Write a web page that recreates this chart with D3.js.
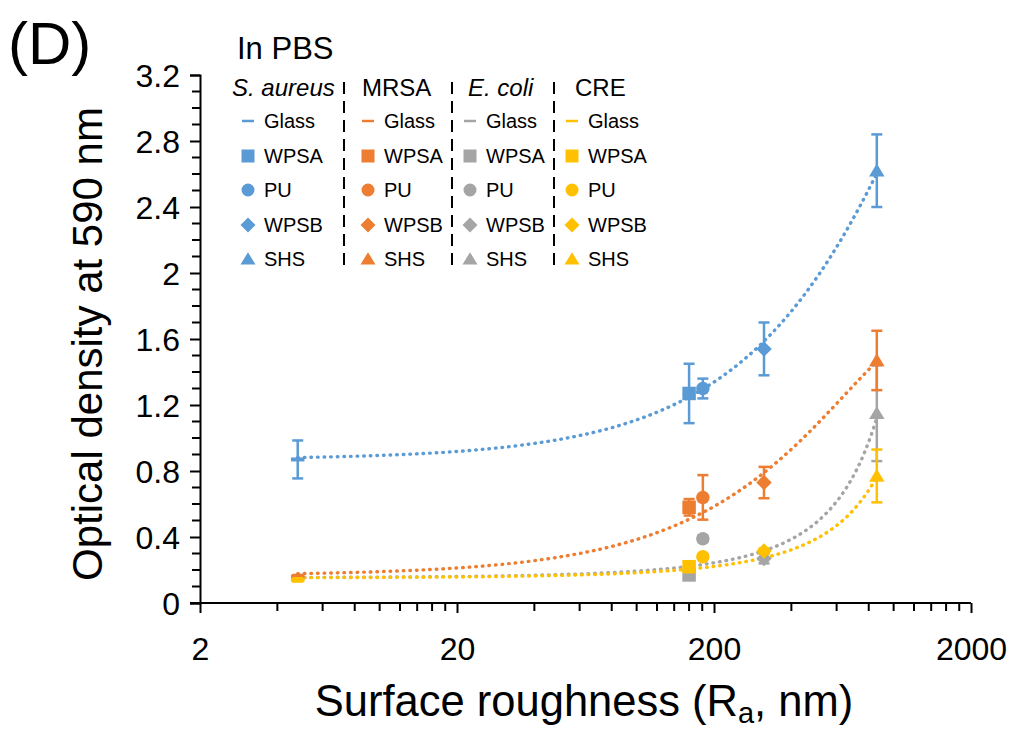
<!DOCTYPE html>
<html>
<head>
<meta charset="utf-8">
<script src="https://cdn.jsdelivr.net/npm/d3@7"></script>
<style>
html,body{margin:0;padding:0;background:#fff;}
svg{display:block;}
text{font-family:"Liberation Sans",Arial,sans-serif;fill:#000;}
</style>
</head>
<body>
<svg id="chart" width="1013" height="729"></svg>
<script>
// ---- data ----
const materials = ["Glass", "WPSA", "PU", "WPSB", "SHS"];
const markerShapes = ["dash", "square", "circle", "diamond", "triangle"];
const roughness = [4.8, 160, 181, 313, 860];
const bacteria = ["S. aureus", "MRSA", "E. coli", "CRE"];
const bacteriaItalic = [true, false, true, false];
const colors = ["#5B9BD5", "#ED7D31", "#A5A5A5", "#FFC000"];

const odSAureus = [0.87, 1.27, 1.30, 1.54, 2.62];
const errSAureus = [0.115, 0.18, 0.06, 0.16, 0.22];
const odMRSA = [0.16, 0.58, 0.64, 0.73, 1.47];
const errMRSA = [0.01, 0.05, 0.135, 0.095, 0.18];
const odEcoli = [0.15, 0.17, 0.39, 0.27, 1.15];
const errEcoli = [0.01, 0.025, 0.02, 0.03, 0.29];
const odCRE = [0.14, 0.22, 0.28, 0.315, 0.77];
const errCRE = [0.01, 0.02, 0.015, 0.015, 0.16];

// trendline fits
const trendType = ["poly", "poly", "exp", "exp"];
const trendCoef = [[0.87, 0.002446, -5e-7], [0.1674, 0.002265, -8.83e-7], [0.1533, 0.002315], [0.1521, 0.001879]];

const xTickValues = [2, 20, 200, 2000];
const xTickLabels = ["2", "20", "200", "2000"];
const yTickValues = [0, 0.4, 0.8, 1.2, 1.6, 2, 2.4, 2.8, 3.2];
const yTickLabels = ["0", "0.4", "0.8", "1.2", "1.6", "2", "2.4", "2.8", "3.2"];

const panelLabel = "(D)";
const conditionLabel = "In PBS";
const xTitleMain = "Surface roughness (R";
const xTitleSub = "a";
const xTitleEnd = ", nm)";
const yTitle = "Optical density at 590 nm";

// ---- drawing ----
const svg = d3.select("#chart");
const x = d3.scaleLog().domain([2, 2000]).range([200, 971]);
const y = d3.scaleLinear().domain([0, 3.2]).range([603, 75]);

const seriesOD = [odSAureus, odMRSA, odEcoli, odCRE];
const seriesErr = [errSAureus, errMRSA, errEcoli, errCRE];
const drawOrder = [0, 2, 1, 3];

function markerPath(shape, s) {
  const h = s / 2;
  switch (shape) {
    case "square": return `M${-h},${-h}H${h}V${h}H${-h}Z`;
    case "circle": return d3.symbol(d3.symbolCircle, Math.PI * h * h)();
    case "diamond": { const d = h * 1.15; return `M0,${-d}L${d},0L0,${d}L${-d},0Z`; }
    case "triangle": { const w = h * 1.15; return `M0,${-h * 1.05}L${w},${h * 0.85}L${-w},${h * 0.85}Z`; }
    case "dash": return `M${-h},-2H${h}V2H${-h}Z`;
  }
}

// axes
const yAxis = d3.axisLeft(y).tickValues(yTickValues).tickFormat((d, i) => yTickLabels[i]).tickSize(10).tickPadding(10);
const gy = svg.append("g").attr("transform", "translate(200,0)").call(yAxis);
gy.select(".domain").attr("stroke", "#000").attr("stroke-width", 2);
gy.selectAll(".tick line").attr("stroke", "#000").attr("stroke-width", 2);
gy.selectAll(".tick text").attr("font-size", 32).attr("font-family", "Liberation Sans, Arial, sans-serif").attr("dy", "0.36em");
// y minor ticks
const yMinor = d3.range(0, 3.2001, 0.1).filter(v => Math.abs(Math.round(v / 0.4) * 0.4 - v) > 1e-6);
svg.append("g").selectAll("line").data(yMinor).join("line")
  .attr("x1", 192).attr("x2", 200).attr("y1", d => y(d)).attr("y2", d => y(d))
  .attr("stroke", "#000").attr("stroke-width", 2);

const xAxis = d3.axisBottom(x).tickValues(xTickValues).tickFormat((d, i) => xTickLabels[i]).tickSize(10).tickPadding(24);
const gx = svg.append("g").attr("transform", "translate(0,603)").call(xAxis);
gx.select(".domain").attr("stroke", "#000").attr("stroke-width", 2).attr("d", "M190,0H971");
gx.selectAll(".tick line").attr("stroke", "#000").attr("stroke-width", 2);
gx.selectAll(".tick text").attr("font-size", 32).attr("font-family", "Liberation Sans, Arial, sans-serif");
// x minor ticks
const xMinor = [];
[2, 20, 200].forEach(b => { for (let k = 2; k <= 9; k++) xMinor.push(b * k); });
svg.append("g").selectAll("line").data(xMinor).join("line")
  .attr("x1", d => x(d)).attr("x2", d => x(d)).attr("y1", 603).attr("y2", 611)
  .attr("stroke", "#000").attr("stroke-width", 2);

// trendlines
function trendValue(i, v) {
  const c = trendCoef[i];
  if (trendType[i] === "exp") return c[0] * Math.exp(c[1] * v);
  return c.reduce((s, ci, k) => s + ci * Math.pow(v, k), 0);
}
const xMin = d3.min(roughness), xMax = d3.max(roughness);
const samples = d3.range(0, 201).map(t => xMin * Math.pow(xMax / xMin, t / 200));
const line = d3.line().x(d => x(d[0])).y(d => y(d[1])).curve(d3.curveLinear);
const gTrend = svg.append("g");
drawOrder.forEach(i => {
  gTrend.append("path")
    .attr("d", line(samples.map(v => [v, trendValue(i, v)])))
    .attr("fill", "none").attr("stroke", colors[i]).attr("stroke-width", 3.4)
    .attr("stroke-linecap", "round").attr("stroke-dasharray", "0.6 6");
});

// error bars + markers
const gPts = svg.append("g");
drawOrder.forEach(i => {
  const g = gPts.append("g");
  roughness.forEach((rx, j) => {
    const cx = x(rx), v = seriesOD[i][j], e = seriesErr[i][j];
    g.append("line").attr("x1", cx).attr("x2", cx).attr("y1", y(v - e)).attr("y2", y(v + e))
      .attr("stroke", colors[i]).attr("stroke-width", 2.5);
    [v - e, v + e].forEach(yy => g.append("line")
      .attr("x1", cx - 5.5).attr("x2", cx + 5.5).attr("y1", y(yy)).attr("y2", y(yy))
      .attr("stroke", colors[i]).attr("stroke-width", 2.5));
    g.append("path").attr("transform", `translate(${cx},${y(v)})`)
      .attr("d", markerPath(markerShapes[j], 13.5)).attr("fill", colors[i]);
  });
});

// legend
const legColMarkerX = [248, 368, 470, 572];
const legHeaderX = [232, 362, 468, 575];
const legRowY = [121, 156, 190, 225, 259];
const legSepX = [344, 452, 554];
const leg = svg.append("g");
bacteria.forEach((b, i) => {
  leg.append("text").attr("x", legHeaderX[i]).attr("y", 96).attr("font-size", 24)
    .attr("font-style", bacteriaItalic[i] ? "italic" : "normal").text(b);
  materials.forEach((m, j) => {
    const mx = legColMarkerX[i], my = legRowY[j];
    if (markerShapes[j] === "dash") {
      leg.append("line").attr("x1", mx - 6).attr("x2", mx + 6).attr("y1", my).attr("y2", my)
        .attr("stroke", colors[i]).attr("stroke-width", 2.5);
    } else {
      leg.append("path").attr("transform", `translate(${mx},${my})`)
        .attr("d", markerPath(markerShapes[j], 13)).attr("fill", colors[i]);
    }
    leg.append("text").attr("x", mx + 16).attr("y", my + 7).attr("font-size", 20).text(m);
  });
});
legSepX.forEach(sx => leg.append("line").attr("x1", sx).attr("x2", sx).attr("y1", 82).attr("y2", 272)
  .attr("stroke", "#000").attr("stroke-width", 2).attr("stroke-dasharray", "12 7"));

// titles
svg.append("text").attr("x", 8).attr("y", 64).attr("font-size", 60).text(panelLabel);
svg.append("text").attr("x", 237).attr("y", 59).attr("font-size", 31).text(conditionLabel);
const xt = svg.append("text").attr("x", 584).attr("y", 716).attr("font-size", 43.5).attr("text-anchor", "middle");
xt.append("tspan").text(xTitleMain);
xt.append("tspan").attr("font-size", 29).attr("dy", 7).text(xTitleSub);
xt.append("tspan").attr("dy", -7).text(xTitleEnd);
svg.append("text").attr("transform", "translate(102,344) rotate(-90)").attr("font-size", 42)
  .attr("text-anchor", "middle").text(yTitle);
</script>
</body>
</html>
